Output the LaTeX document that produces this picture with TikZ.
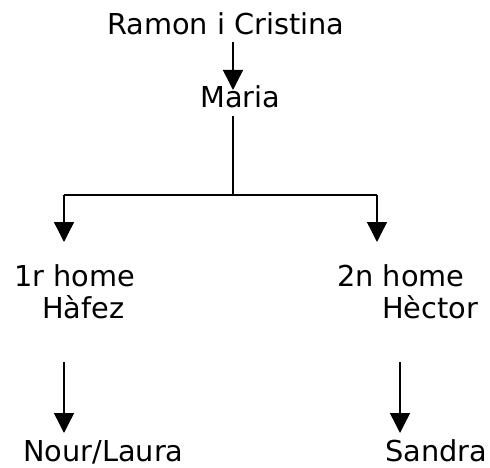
\documentclass[tikz,border=0pt]{standalone}
\usepackage{fontspec}
\setmainfont{DejaVu Sans}
\usetikzlibrary{arrows.meta}
\begin{document}
\begin{tikzpicture}[x=1pt,y=-1pt,
  lbl/.style={anchor=base west,inner sep=0pt,font=\fontsize{28.8}{32}\selectfont},
  conn/.style={line width=1.4pt},
  arr/.style={conn,-{Triangle[width=20pt,length=20pt]}}]
\useasboundingbox (0,0) rectangle (490,468);
\node[lbl] (ramon) at (107,35) {Ramon i Cristina};
\node[lbl] (maria) at (200,108) {Maria};
\node[lbl] (h1) at (14,286) {1r home};
\node[lbl] (hafez) at (42,318) {Hàfez};
\node[lbl] (h2) at (337,286) {2n home};
\node[lbl] (hector) at (382,318) {Hèctor};
\node[lbl] (nour) at (23,461) {Nour/Laura};
\node[lbl] (sandra) at (385,461) {Sandra};
\coordinate (a0) at (233,42);
\coordinate (a1) at (233,90);
\coordinate (m0) at (233,116);
\coordinate (j) at (233,195);
\coordinate (jl) at (64,195);
\coordinate (jr) at (377,195);
\coordinate (tl) at (64,242);
\coordinate (tr) at (377,242);
\coordinate (bl0) at (64,362);
\coordinate (bl1) at (64,433);
\coordinate (br0) at (400,362);
\coordinate (br1) at (400,433);
\draw[arr] (a0) -- (a1);
\draw[conn] (m0) -- (j);
\draw[conn] (jl) -- (jr);
\draw[arr] (jl) -- (tl);
\draw[arr] (jr) -- (tr);
\draw[arr] (bl0) -- (bl1);
\draw[arr] (br0) -- (br1);
\end{tikzpicture}
\end{document}
